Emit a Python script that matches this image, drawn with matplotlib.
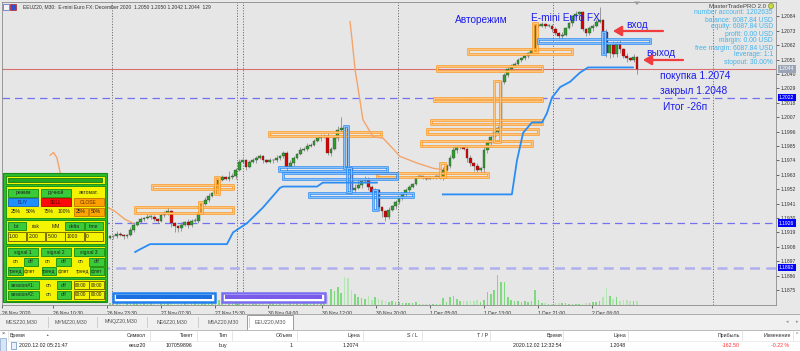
import numpy as np
import matplotlib
matplotlib.use("Agg")
import matplotlib.pyplot as plt
from matplotlib.patches import Rectangle, Circle, Polygon
import matplotlib.transforms as mtransforms

plt.rcParams['font.family'] = ['Liberation Sans', 'DejaVu Sans']

# ---------------- data ----------------
first_open = 1.1915
closes = [
    1.1916, 1.1916, 1.1918, 1.1917, 1.1916, 1.1917, 1.1921, 1.1925, 1.1927, 1.1929,
    1.1930, 1.1931, 1.1931, 1.1929, 1.1928, 1.1932, 1.1934, 1.1935, 1.1926, 1.1924,
    1.1922, 1.1925, 1.1927, 1.1925, 1.1928, 1.1928, 1.1934, 1.1941, 1.1944, 1.1947,
    1.1949, 1.1954, 1.1959, 1.1961, 1.1960, 1.1961, 1.1962, 1.1967, 1.1973, 1.1974,
    1.1969, 1.1973, 1.1974, 1.1976, 1.1977, 1.1974, 1.1973, 1.1974, 1.1974, 1.1976,
    1.1977, 1.1980, 1.1969, 1.1972, 1.1976, 1.1979, 1.1982, 1.1983, 1.1985, 1.1986,
    1.1989, 1.1991, 1.1992, 1.1993, 1.1980, 1.1983, 1.1991, 1.1997, 1.1999, 1.1998,
    1.1968, 1.1951, 1.1953, 1.1955, 1.1958, 1.1959, 1.1954, 1.1950, 1.1951, 1.1938,
    1.1935, 1.1931, 1.1936, 1.1939, 1.1942, 1.1945, 1.1948, 1.1951, 1.1954, 1.1956,
    1.1961, 1.1962, 1.1961, 1.1960, 1.1961, 1.1961, 1.1962, 1.1961, 1.1967, 1.1970,
    1.1976, 1.1982, 1.1984, 1.1984, 1.1983, 1.1976, 1.1972, 1.1970, 1.1967, 1.1968,
    1.1982, 1.1987, 1.1992, 1.1996, 1.1999, 1.2034, 1.2039, 1.2044, 1.2046, 1.2048,
    1.2051, 1.2052, 1.2054, 1.2056, 1.2058, 1.2077, 1.2077, 1.2078, 1.2077, 1.2077,
    1.2074, 1.2071, 1.2069, 1.2070, 1.2075, 1.2079, 1.2084, 1.2086, 1.2087, 1.2074,
    1.2071, 1.2075, 1.2077, 1.2080, 1.2081, 1.2072, 1.2056, 1.2062, 1.2055, 1.2064,
    1.2059, 1.2054, 1.2052, 1.2051, 1.2053, 1.2044,
]
hi_wick = [
    1, 1, 2, 1, 1, 1, 2, 1, 1, 2,  1, 2, 1, 1, 1, 2, 1, 3, 1, 1,
    1, 2, 1, 2, 1, 2, 1, 1, 2, 2,  1, 2, 1, 2, 1, 5, 2, 1, 2, 1,
    1, 1, 2, 1, 2, 1, 1, 2, 1, 2,  1, 1, 1, 2, 1, 1, 2, 1, 2, 1,
    1, 1, 2, 1, 2, 1, 2, 3, 8, 2,  1, 2, 3, 5, 1, 3, 2, 1, 2, 1,
    1, 1, 2, 1, 2, 1, 1, 2, 1, 1,  1, 1, 0, 1, 1, 0, 1, 1, 2, 1,
    2, 3, 2, 1, 2, 1, 2, 1, 2, 1,  3, 2, 1, 1, 1, 1, 2, 1, 2, 1,
    1, 1, 2, 1, 1, 1, 2, 2, 1, 1,  1, 2, 1, 2, 1, 1, 1, 2, 1, 1,
    1, 2, 1, 2, 10, 1, 2, 1, 3, 1, 2, 1, 2, 1, 2, 1,
]
lo_wick = [
    1, 2, 1, 1, 2, 1, 1, 2, 1, 1,  1, 1, 2, 1, 2, 1, 1, 2, 3, 5,
    3, 2, 1, 3, 2, 1, 2, 1, 1, 2,  1, 1, 2, 1, 1, 2, 1, 2, 1, 1,
    2, 1, 1, 2, 1, 2, 1, 1, 2, 1,  2, 1, 4, 1, 2, 1, 1, 1, 2, 1,
    1, 1, 2, 1, 2, 3, 1, 2, 1, 2,  2, 3, 2, 1, 2, 1, 3, 2, 1, 3,
    4, 3, 2, 1, 2, 1, 1, 2, 1, 1,  1, 0, 1, 1, 0, 1, 1, 1, 2, 1,
    2, 1, 2, 1, 1, 3, 2, 4, 2, 2,  4, 2, 1, 2, 1, 3, 2, 1, 2, 1,
    1, 2, 1, 2, 1, 1, 2, 1, 2, 1,  2, 1, 3, 2, 1, 1, 2, 1, 2, 1,
    2, 1, 2, 1, 1, 1, 3, 4, 2, 2,  3, 2, 3, 1, 2, 4,
]
volumes = [
    2, 2, 3, 2, 1, 2, 3, 4, 3, 2,  2, 1, 2, 3, 2, 2, 3, 4, 5, 3,
    3, 2, 2, 3, 2, 2, 4, 5, 4, 3,  4, 3, 5, 3, 2, 2, 3, 4, 5, 4,
    3, 2, 2, 3, 2, 2, 1, 2, 2, 3,  2, 3, 4, 3, 2, 3, 3, 3, 4, 3,
    5, 4, 6, 5, 10, 16, 14, 18, 12, 28,  27, 15, 11, 8, 7, 6, 9, 5, 8, 6,
    5, 4, 3, 4, 3, 3, 2, 2, 2, 2,  3, 1, 1, 1, 1, 1, 1, 1, 7, 3,
    8, 9, 6, 4, 4, 4, 4, 4, 5, 3,  5, 13, 11, 15, 30, 23, 23, 8, 5, 4,
    4, 3, 4, 3, 4, 15, 5, 2, 2, 1,  1, 2, 2, 2, 2, 1, 1, 1, 1, 1,
    2, 2, 3, 3, 4, 8, 17, 9, 6, 8,  4, 5, 5, 4, 4, 4,
]

# moving average (orange) and trailing stop (blue) - bar index / price
ma_left_bars = [-17.6, -16.6, -15.6, -14.7, -12.0, -0.6, 1.5, 4.4, 6.8]
ma_left_vals = [1.1978, 1.1980, 1.1976, 1.1965, 1.1955, 1.1938, 1.1935, 1.1929, 1.1926]
ma_right_bars = [70.6, 71.2, 72.1, 72.6, 74.4, 77.4, 80.3, 83.2, 85.3, 90.3, 95.0, 97.6]
ma_right_vals = [1.2080, 1.2066, 1.2043, 1.2035, 1.2005, 1.1992, 1.1991, 1.1983,
                 1.1977, 1.1972, 1.1968, 1.1967]
stop1_bars = [7.4, 8.8, 11.8, 34.4, 36.2, 40.3, 45.0, 50.0, 50.9, 60.9, 62.6, 78.5]
stop1_vals = [1.1904, 1.1906, 1.1910, 1.1910, 1.1919, 1.1926, 1.1938, 1.1953,
              1.1954, 1.1954, 1.1957, 1.1957]
stop2_bars = [97.9, 118.2, 119.7, 121.5, 124.1, 127.1, 128.5, 130.0, 132.4, 135.3,
              138.2, 140.6, 153.8]
stop2_vals = [1.1948, 1.1948, 1.1974, 1.1995, 1.2003, 1.2003, 1.2010, 1.2022,
              1.2030, 1.2034, 1.2041, 1.2045, 1.2045]

# supply / demand zones: (bar from, bar to, price low, price high)
orange_zones = [
    (7.4, 36.2, 1.1934, 1.1938), (12.4, 36.2, 1.1952, 1.1955),
    (46.8, 79.7, 1.1993, 1.1996), (78.5, 111.2, 1.1961, 1.1964),
    (91.5, 124.1, 1.1985, 1.1989), (93.2, 125.9, 1.1994, 1.1998),
    (94.4, 127.1, 1.2002, 1.2005), (95.3, 127.1, 1.2019, 1.2022),
    (96.2, 127.1, 1.2042, 1.2046), (105.3, 135.9, 1.2055, 1.2059),
    (26.2, 27.2, 1.1934, 1.1942), (30.9, 32.1, 1.1948, 1.1961),
    (97.0, 98.5, 1.1961, 1.1972), (113.0, 114.7, 1.1988, 1.2035),
    (124.4, 125.6, 1.2057, 1.2079),
]
blue_zones = [
    (49.7, 81.5, 1.1966, 1.1969), (50.9, 84.4, 1.1960, 1.1964),
    (58.5, 89.1, 1.1946, 1.1949), (125.9, 158.8, 1.2064, 1.2067),
    (68.8, 70.0, 1.1968, 1.2000), (69.7, 70.9, 1.1950, 1.1968),
    (77.4, 78.5, 1.1936, 1.1951), (144.7, 145.6, 1.2055, 1.2072),
]

separators = [0.6, 37.4, 39.1, 84.7, 130.3, 177.4]
dashed_levels = [1.2022, 1.1926]
faint_level = 1.1892
current_price = 1.2044

time_labels = ["26 Nov 2020", "26 Nov 10:30", "26 Nov 23:30", "27 Nov 07:30",
               "27 Nov 15:30", "30 Nov 04:00", "30 Nov 12:00", "30 Nov 20:00",
               "1 Dec 05:00", "1 Dec 13:00", "1 Dec 21:00", "2 Dec 06:00"]
price_tick_start, price_tick_step, n_price_ticks = 1.1875, 0.0011, 20

info_lines = ["number account: 1202635", "balance: 6087.84 USD", "equity: 6087.84 USD",
              "profit: 0.00 USD", "margin: 0.00 USD", "free margin: 6087.84 USD",
              "leverage: 1:1", "stopout: 30.00%"]
tabs = ["MESZ20,M30", "MYMZ20,M30", "MNQZ20,M30", "NE6Z20,M30", "M6AZ20,M30", "EEUZ20,M30"]
table_header = ["Время", "Символ", "Тикет", "Тип", "Объем", "Цена", "S / L", "T / P",
                "Время", "Цена", "Прибыль", "Изменение"]
table_row = ["2020.12.02 05:21:47", "eeuz20", "107059896", "buy", "1", "1.2074", "", "",
             "2020.12.02 12:32:54", "1.2048", "-162.50", "-0.22 %"]

# ---------------- figure ----------------
BG = '#e8e8e8'
fig = plt.figure(figsize=(8, 3.51), dpi=100, facecolor=BG)
ax = fig.add_axes([2 / 800, 46 / 351, 774 / 800, 303 / 351])
ax2 = ax.twinx()
ax.set_zorder(ax2.get_zorder() + 1)
ax.patch.set_visible(False)
ax2.patch.set_visible(True)
ax2.set_facecolor('#e6e6e6')
ax.set_xlim(-31.76, 195.88)
ax.set_ylim(1.18635, 1.20950)

# volume
pip = 0.0001
n = len(closes)
x = np.arange(n)
c = np.array(closes)
o = np.r_[first_open, c[:-1]]
up = c >= o
ax2.bar(x, volumes, width=0.45, color=np.where(up, '#7fd97f', '#b4e6b4'), zorder=1)
ax2.set_ylim(0, 10.2 * max(volumes))
ax2.set_yticks([])
for s in ax2.spines.values():
    s.set_visible(False)

# separators and levels
for b in separators:
    ax.axvline(b, color='#707070', lw=0.7, ls=(0, (1.2, 1.6)), zorder=1)
for lv in dashed_levels:
    ax.axhline(lv, color='#7272ee', lw=0.9, ls=(0, (6, 4)), zorder=1)
ax.axhline(faint_level, color='#b0b0ee', lw=1.8, ls=(0, (4, 2.5)), zorder=1)
ax.axhline(current_price, color='#d87070', lw=0.8, zorder=1)

# candles
hi = np.maximum(o, c) + np.array(hi_wick) * pip
lo = np.minimum(o, c) - np.array(lo_wick) * pip
ax.vlines(x, lo, hi, color='#8c8c8c', lw=0.6, zorder=3)
body_h = np.maximum(np.abs(c - o), 0.00004)
cols = np.where(up, '#2e9e2e', '#dd0000')
cols = np.where(np.abs(c - o) < 0.00005, '#77dd77', cols)
ax.bar(x, body_h, bottom=np.minimum(o, c), width=0.8, color=cols,
       edgecolor='#3a3a3a', lw=0.25, zorder=4)

# zones
def zone(z, col, inner):
    b0, b1, p0, p1 = z
    ax.add_patch(Rectangle((b0, p0), b1 - b0, p1 - p0, fc='none', ec=col, lw=1.8, zorder=5))
    ax.add_patch(Rectangle((b0, p0), b1 - b0, p1 - p0, fc='none', ec=inner, lw=0.5, zorder=5))

for z in orange_zones:
    zone(z, '#ff9a22', '#ffd8a8')
for z in blue_zones:
    zone(z, '#2a8cf5', '#b0d6ff')

ax.plot(ma_left_bars, ma_left_vals, color='#f4a46a', lw=1.0, zorder=6)
ax.plot(ma_right_bars, ma_right_vals, color='#f4a46a', lw=1.0, zorder=6)
ax.plot(stop1_bars, stop1_vals, color='#2a8cf5', lw=1.3, zorder=6)
ax.plot(stop2_bars, stop2_vals, color='#2a8cf5', lw=1.3, zorder=6)

# axes / ticks
for s in ax.spines.values():
    s.set_color('#8a8a8a')
    s.set_linewidth(0.6)
pticks = [price_tick_start + price_tick_step * k for k in range(n_price_ticks)]
ax.yaxis.tick_right()
ax.set_yticks(pticks)
ax.set_yticklabels([f'{t:.4f}' for t in pticks])
ax.tick_params(axis='y', length=2, width=0.5, pad=1, labelsize=3.6, colors='#333333')
tpos = [-31.7] + [-16.8 + 15.85 * k for k in range(len(time_labels) - 1)]
ax.set_xticks(tpos)
ax.set_xticklabels(time_labels, ha='left')
ax.tick_params(axis='x', length=2.5, width=0.5, pad=1.5, labelsize=3.6, colors='#333333')

bt = mtransforms.blended_transform_factory(ax.transAxes, ax.transData)
for lv, fc in [(current_price, '#9aa6b6'), (dashed_levels[0], '#0000ff'),
               (dashed_levels[1], '#0000ff'), (faint_level, '#0000ff')]:
    ax.text(1.004, lv, f'{lv:.4f}', transform=bt, ha='left', va='center', fontsize=3.6,
            color='white', bbox=dict(boxstyle='square,pad=0.25', fc=fc, ec='none'),
            clip_on=False, zorder=8)

# ---------------- overlay in pixel coordinates ----------------
ov = fig.add_axes([0, 0, 1, 1], zorder=10)
ov.set_xlim(0, 800)
ov.set_ylim(351, 0)
ov.axis('off')
ov.patch.set_alpha(0)

# header
ov.add_patch(Rectangle((3, 3.5), 6, 6, fc='#f4f4ff', ec='#5060c0', lw=0.5))
ov.add_patch(Rectangle((10, 3.5), 6, 6, fc='#3050d0', ec='#c02020', lw=0.5))
ov.text(23, 7, "EEUZ20, M30:  E-mini Euro FX: December 2020  1.2050 1.2050 1.2042 1.2044  129",
        fontsize=3.6, color='#333333', va='center')
ov.add_patch(Polygon([[634, 1.5], [640, 1.5], [637, 5]], closed=True, fc='#9a9a9a', ec='none'))

# chart annotations
BLUE = '#1c1cf0'
ov.text(455, 20, "Авторежим", fontsize=7.3, color=BLUE, va='center')
ov.text(531, 18, "E-mini Euro FX", fontsize=7.3, color=BLUE, va='center')
ov.text(626, 24.5, "вход", fontsize=7.3, color=BLUE, va='center')
ov.text(646, 52.5, "выход", fontsize=7.3, color=BLUE, va='center')
ov.text(660, 76, "покупка 1.2074", fontsize=7.3, color=BLUE, va='center')
ov.text(660, 91, "закрыл 1.2048", fontsize=7.3, color=BLUE, va='center')
ov.text(663, 107, "Итог -26п", fontsize=7.3, color=BLUE, va='center')
for (x0, x1, yy) in [(613, 663, 31), (643, 683, 60)]:
    ov.annotate('', xy=(x0, yy), xytext=(x1, yy),
                arrowprops=dict(arrowstyle='-|>,head_length=0.5,head_width=0.3',
                                color='#f03c3c', lw=1.6, shrinkA=0, shrinkB=0))

# info panel
ov.text(766, 6, "MasterTradePRO 2.0", fontsize=4.3, color='#404040', ha='right', va='center')
ov.add_patch(Circle((771, 6), 2.6, fc='#c8d840', ec='#708020', lw=0.4))
for k, t in enumerate(info_lines):
    ov.text(773, 13 + 7 * k, t, fontsize=4.9, color='#42b4ec', ha='right', va='center')

# control panel
GRN, GRN_E, YEL = '#3acb3a', '#138a13', '#f4f400'


def cell(x0, y0, w, h, txt, fc=None, ec=None, tc='#202020', fs=3.6):
    if fc is not None:
        ov.add_patch(Rectangle((x0, y0), w, h, fc=fc, ec=ec or fc, lw=0.6))
    ov.text(x0 + w / 2, y0 + h / 2 + 0.3, txt, ha='center', va='center', fontsize=fs, color=tc)


ov.add_patch(Rectangle((3, 173), 104, 129, fc='#2cbc2c', ec='#178f17', lw=0.8))
for (y0, h) in [(175.5, 8.5), (186, 31.5), (220, 24), (246, 31), (279, 21.5)]:
    ov.add_patch(Rectangle((5.5, y0), 99, h, fc=YEL, ec=GRN_E, lw=0.6))
ov.add_patch(Rectangle((8, 177.5), 94, 4.2, fc='#23a823', ec='#0b6b0b', lw=0.5))

cell(8, 188.5, 30, 8, "режим", GRN, GRN_E)
cell(41, 188.5, 30, 8, "ручной", GRN, GRN_E)
cell(73.5, 188.5, 30, 8, "автомат.")
cell(8, 198, 30, 8, "BUY", '#1e90ff', '#1060c0', '#1a2a70')
cell(41, 198, 30, 8, "SELL", '#ff0a0a', '#b00000', '#700000')
cell(73.5, 198, 30, 8, "CLOSE", '#ffa000', '#c07000', '#603000')
for (x0, t) in [(8, "25%"), (23.5, "50%"), (41, "75%"), (56.5, "100%")]:
    cell(x0, 207.5, 14.5, 8, t)
for (x0, t) in [(73.5, "25%"), (89, "50%")]:
    cell(x0, 207.5, 14.5, 8, t, '#ffa500', '#c07800')
for k, (t, g) in enumerate([("lot", 1), ("risk", 0), ("MM", 0), ("delta", 1), ("time", 1)]):
    cell(7.5 + 19.3 * k, 222, 18.5, 8, t, GRN if g else None, GRN_E)
    cell(7.5 + 19.3 * k, 232, 18.5, 9, "", YEL, '#6a5a00')
for k, t in enumerate(["1.00", "2.00", "5.00", "1000", "0"]):
    ov.text(9 + 19.3 * k, 236.8, t, fontsize=3.6, color='#202020', va='center')
for k in range(3):
    cell(8 + 32.75 * k, 248, 30, 8, f"signal {k + 1}", GRN, GRN_E)
    cell(8 + 32.75 * k, 257.5, 14.5, 8, "on")
    cell(23.5 + 32.75 * k, 257.5, 14.5, 8, "off", GRN, GRN_E)
for k, (t, g) in enumerate([("тренд", 1), ("флет", 0), ("тренд", 1), ("флет", 0),
                            ("тренд", 0), ("флет", 1)]):
    cell(8 + 16.0 * k - (1.5 if k % 2 else 0) + (k // 2) * 1.5, 267, 14.5, 8, t,
         GRN if g else None, GRN_E, fs=3.4)
for r, y0 in enumerate([281, 290.5]):
    cell(7.5, y0, 31, 8, f"session#{r + 1}:", GRN, GRN_E)
    cell(41, y0, 14.5, 8, "on")
    cell(56.5, y0, 14.5, 8, "off", GRN, GRN_E)
    cell(73.5, y0, 15, 8, "00:00", YEL, '#6a5a00', fs=3.4)
    cell(89, y0, 15, 8, "00:00", YEL, '#6a5a00', fs=3.4)

# session boxes at the bottom of the chart
ov.add_patch(Rectangle((113, 292.5), 102, 9, fc='white', ec='#1f7ef0', lw=1.8))
ov.add_patch(Rectangle((116, 295), 96, 4, fc='#1c6fe0', ec='none'))
ov.add_patch(Rectangle((222, 292.5), 103, 9, fc='white', ec='#7a6cf0', lw=1.8))
ov.add_patch(Rectangle((225, 295), 97, 4, fc='#7b5ce8', ec='none'))

# tabs
ov.add_patch(Rectangle((0, 314), 800, 16, fc='#f0f0f0', ec='none'))
ov.plot([0, 800], [314, 314], color='#a0a0a0', lw=0.6)
tab_cx = [22, 71, 121, 172, 223, 270]
for k, (t, cx) in enumerate(zip(tabs, tab_cx)):
    if k == len(tabs) - 1:
        ov.add_patch(Rectangle((247, 314.5), 46, 15, fc='white', ec='#8c8c8c', lw=0.6))
    else:
        ov.plot([cx + 26, cx + 26], [317, 327], color='#c8c8c8', lw=0.6)
    ov.text(cx, 322, t, fontsize=3.8, color='#555555', ha='center', va='center')
ov.text(787, 322, "◂", fontsize=3.5, color='#909090', ha='center', va='center')
ov.text(797, 322, "▸", fontsize=3.5, color='#909090', ha='center', va='center')

# trade table
ov.add_patch(Rectangle((0, 330), 800, 21, fc='white', ec='none'))
ov.plot([0, 800], [330, 330], color='#b0b0b0', lw=0.6)
ov.plot([8, 800], [340.5, 340.5], color='#e4e4e4', lw=0.5)
for sx in [8, 150, 197, 232, 297, 363, 422, 490, 563, 628, 742, 793]:
    ov.plot([sx, sx], [331, 340], color='#dcdcdc', lw=0.5)
ov.text(3, 333, "×", fontsize=4, color='#404040', ha='center', va='center')
ov.add_patch(Rectangle((0, 338), 6, 13, fc='#d6e6f6', ec='#7090c0', lw=0.4))
ov.text(797, 335, "^", fontsize=3.6, color='#606060', ha='center', va='center')
head_x = [10, 146, 193, 228, 293, 360, 418, 488, 562, 626, 740, 791]
for k, (t, hx) in enumerate(zip(table_header, head_x)):
    ov.text(hx, 335.5, t, fontsize=3.8, color='#303030', ha='left' if k == 0 else 'right',
            va='center')
ov.text(47, 335, "▲", fontsize=2.5, color='#606060', ha='center', va='center')
ov.add_patch(Rectangle((11, 342), 5, 7, fc='#eaf2ff', ec='#4070b0', lw=0.4))
row_x = [19, 146, 192, 227, 293, 359, 418, 488, 562, 626, 740, 789]
for k, (t, rx) in enumerate(zip(table_row, row_x)):
    col = '#ff3030' if t.startswith('-') else '#202020'
    ov.text(rx, 345.5, t, fontsize=3.8, color=col, ha='left' if k == 0 else 'right',
            va='center')

fig.savefig("out.png", dpi=100, facecolor=fig.get_facecolor())
